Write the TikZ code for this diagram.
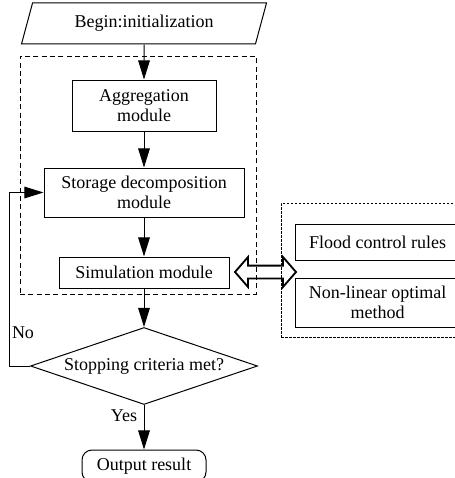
\documentclass[tikz,border=0pt]{standalone}
\usepackage{fontspec}
\setmainfont{Liberation Serif}
\usetikzlibrary{shapes.geometric,shapes.arrows,arrows.meta}
\tikzset{
  module/.style={draw, line width=0.6pt, align=center, inner sep=0pt},
  frame/.style={draw, line width=0.6pt, dash pattern=on 3pt off 2pt, inner sep=0pt},
  flow/.style={line width=0.6pt, -{Triangle[length=11.5pt,width=7pt]}}
}
\begin{document}
\begin{tikzpicture}[x=0.6pt, y=-0.6pt, font=\fontsize{10.8}{11.6}\selectfont]
\useasboundingbox (0,0) rectangle (455,478);
\node[frame, minimum width=141.6pt, minimum height=142.8pt] (main) at (138,175) {};
\node[frame, dash pattern=on 1.5pt off 0.9pt, line width=0.5pt, minimum width=113.4pt, minimum height=80.4pt] (tools) at (375.5,270) {};
\node[module, trapezium, trapezium left angle=56, trapezium right angle=124, trapezium stretches body=true, minimum width=147pt, minimum height=24.6pt] (begin) at (144,23.5) {Begin:initialization};
\node[module, minimum width=86.4pt, minimum height=30.6pt] (agg) at (144,105.5) {Aggregation\\module};
\node[module, minimum width=120pt, minimum height=29.4pt] (store) at (144,192.5) {Storage decomposition\\module};
\node[module, minimum width=102pt, minimum height=18.6pt] (sim) at (144,272.5) {Simulation module};
\node[module, diamond, aspect=2.95, minimum width=136.2pt, minimum height=46.2pt] (crit) at (144,366) {Stopping criteria met?};
\node[module, rounded corners=6pt, minimum width=74.4pt, minimum height=19.2pt] (out) at (144,466) {Output result};
\node[module, minimum width=99pt, minimum height=21.6pt] (flood) at (377.5,242) {Flood control rules};
\node[module, minimum width=99pt, minimum height=29.4pt] (nonlin) at (377.5,302.5) {Non-linear optimal\\method};
\node[draw, double arrow, line width=1.1pt, inner sep=3.3pt, minimum height=36.6pt, double arrow head extend=5.1pt, double arrow tip angle=98] (link) at (265.5,272) {};
\coordinate (back) at (9,366);
\draw[flow] (begin.south) -- (agg.north);
\draw[flow] (agg.south) -- (store.north);
\draw[flow] (store.south) -- (sim.north);
\draw[flow] (sim.south) -- (crit.north);
\draw[flow] (crit.south) -- (out.north);
\draw[flow] (crit.west) -- (back) |- (store.west);
\node (no) at (23,333) {No};
\node (yes) at (124,416) {Yes};
\end{tikzpicture}
\end{document}
